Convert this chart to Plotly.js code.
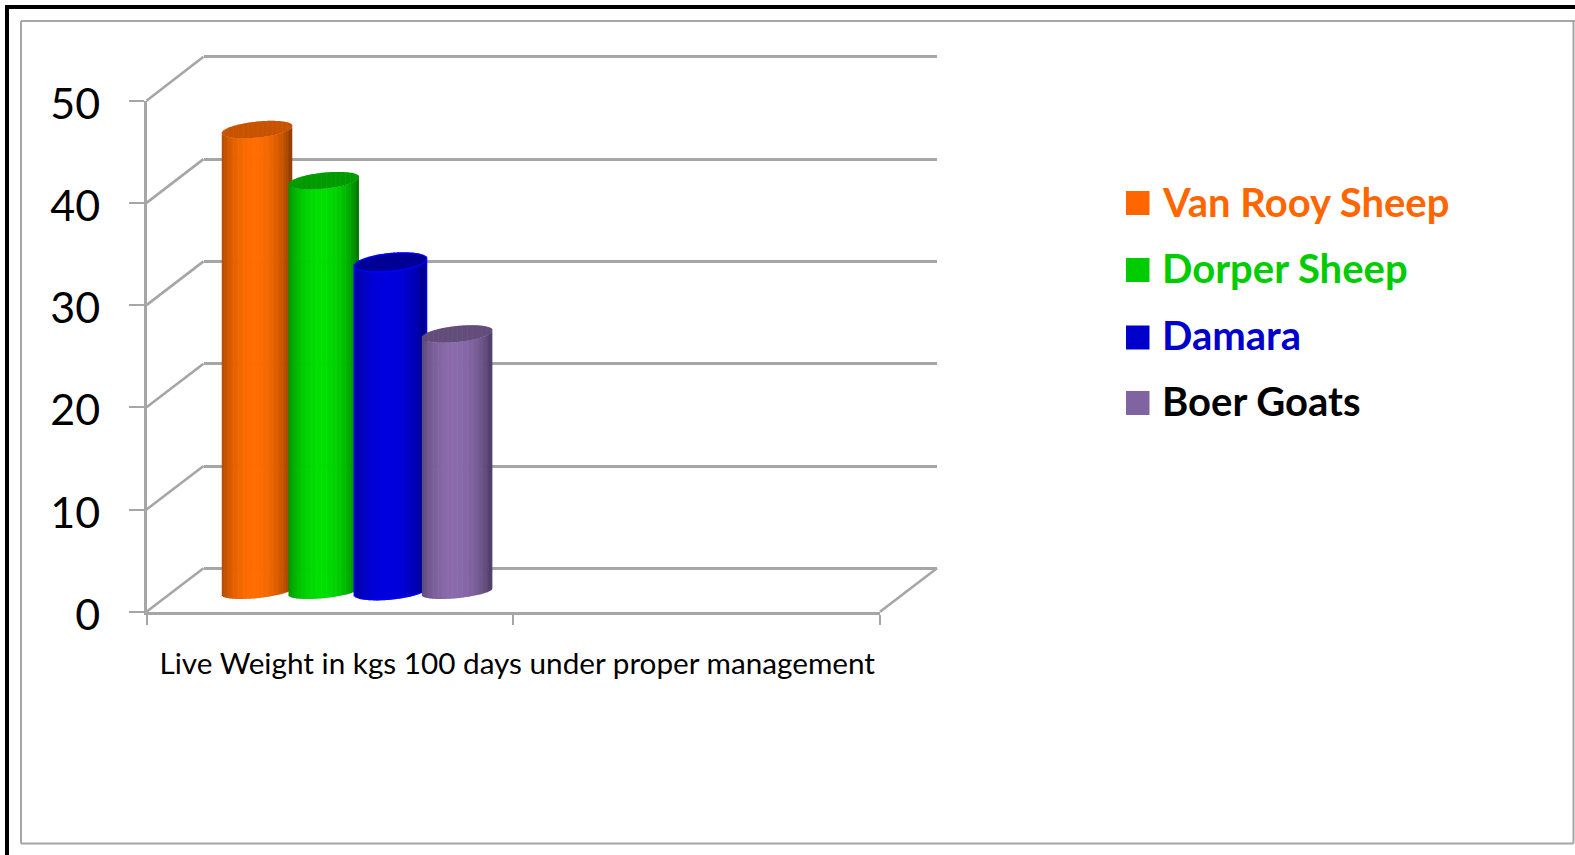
<!DOCTYPE html>
<html>
<head>
<meta charset="utf-8">
<script src="https://cdn.plot.ly/plotly-3.0.1.min.js"></script>
<style>html,body{margin:0;padding:0;background:#fff;overflow:hidden}</style>
</head>
<body>
<div id="chart" style="width:1575px;height:855px"></div>
<script>
// ---- data ----
const categories = ["Live Weight in kgs 100 days under proper management", " "];
const seriesNames = ["Van Rooy Sheep", "Dorper Sheep", "Damara", "Boer Goats"];
const seriesValues = [45.2, 40.2, 32.2, 25.2];
const yTicks = [0, 10, 20, 30, 40, 50];

// ---- styles ----
const legendTextColors = ["#ff6600", "#00cc00", "#0000cc", "#000000"];
const legendSwatchColors = ["#ff6600", "#00cc00", "#0000cc", "#8064a2"];
const edgeColors = [[150,62,0],[0,125,0],[0,0,140],[78,62,104]];
const midColors = [[255,108,0],[0,222,0],[0,0,222],[138,106,172]];
const capColors = [[200,82,0],[0,155,0],[0,0,150],[98,76,122]];
const haloPx = [0, 0, 1.6, 0];
const GRID = "#a6a6a6";
const FONT = "Lato, Carlito, Calibri, sans-serif";

// ---- page geometry (pixels) ----
const W = 1575, H = 855;
const fx = p => p / W, fy = p => 1 - p / H;
const front = {x0: 146.5, x1: 880, y0: 611.7, y1: 100.7};
const back  = {x0: 203.5, x1: 937, y0: 568.3, y1: 56.8};
const mid   = {x0: 175.2, x1: 908.7, y0: 591.5, y1: 80.5};
const pxPerUnitY = (mid.y0 - mid.y1) / 50;
const pxPerBackY = (back.y0 - back.y1) / 50;
const pxPerCat = (mid.x1 - mid.x0) / categories.length;
const barW = 70.5 / pxPerCat, barStep = 66.7 / pxPerCat, centre = -1.5 / pxPerCat;
const tilt = 3.5 / pxPerUnitY, ell = 8 / pxPerUnitY, ellBase = 6.6 / pxPerUnitY;
const N = 56;
const backPad = 1, barPadLow = 5;
const titleShiftPx = 4;

function shade(i, t) {
  const s = Math.sqrt(Math.max(0, 1 - (t + 0.08) * (t + 0.08)));
  const k = Math.pow(s, 1.5);
  const c = edgeColors[i].map((e, j) => Math.round(e + (midColors[i][j] - e) * k));
  return `rgba(${c[0]},${c[1]},${c[2]},0.995)`;
}
function strips(i, halo, mk) {
  const extra = halo / pxPerCat;
  const w = barW + 2 * extra;
  const left = centre + (i - 1.5) * barStep - w / 2;
  const step = w / N;
  const o = {x: [], y: [], base: [], width: [], offset: [], color: []};
  for (let k = 0; k < N; k++) {
    const t = -1 + (k + 0.5) * 2 / N;
    const p = mk(t, k);
    o.x.push(categories[0]);
    o.y.push(p.h);
    o.base.push(p.b);
    o.width.push(k === N - 1 ? step : step * 1.5);
    o.offset.push(left + k * step);
    o.color.push(p.c);
  }
  return o;
}
function barTrace(o, name) {
  return {type: "bar", xaxis: "x3", yaxis: "y3", name: name, x: o.x, y: o.y, base: o.base,
    width: o.width, offset: o.offset, marker: {color: o.color, line: {width: 0}},
    hoverinfo: "skip", showlegend: false, cliponaxis: false};
}
const hidden = {type: "scatter", mode: "markers", marker: {size: 1, opacity: 0}, hoverinfo: "skip", showlegend: false};
const traces = [
  Object.assign({}, hidden, {xaxis: "x", yaxis: "y", x: [0], y: [0]}),
  Object.assign({}, hidden, {xaxis: "x2", yaxis: "y2", x: [categories[0]], y: [0]}),
  Object.assign({}, hidden, {xaxis: "x4", yaxis: "y2", x: [0], y: [0]})
];
seriesValues.forEach((v, i) => {
  const low = (t, e, b) => tilt * t - (b + e) * Math.sqrt(1 - t * t);
  const h = haloPx[i] / pxPerUnitY;
  if (h > 0) {
    traces.push(barTrace(strips(i, haloPx[i], t => ({h: v + low(t, h, ell) - low(t, h, ellBase), b: low(t, h, ellBase), c: "rgba(0,0,255,0.995)"})), seriesNames[i] + " outline"));
  }
  traces.push(barTrace(strips(i, 0, t => ({h: v + low(t, 0, ell) - low(t, 0, ellBase), b: low(t, 0, ellBase), c: shade(i, t)})), seriesNames[i]));
  if (h > 0) {
    traces.push(barTrace(strips(i, haloPx[i], t => ({h: 2 * (ell + h) * Math.sqrt(1 - t * t), b: v + low(t, h, ell), c: "rgba(0,0,255,0.995)"})), seriesNames[i] + " rim"));
  }
  const cc = capColors[i];
  traces.push(barTrace(strips(i, 0, t => ({h: 2 * ell * Math.sqrt(1 - t * t), b: v + low(t, 0, ell), c: `rgba(${cc[0]},${cc[1]},${cc[2]},0.995)`})), seriesNames[i] + " top"));
});

// ---- frame, side walls, legend ----
const LW = 2.6;
const pline = (x0, y0, x1, y1, color, width) => ({type: "line", xref: "paper", yref: "paper", layer: "below",
  x0: fx(x0), y0: fy(y0), x1: fx(x1), y1: fy(y1), line: {color: color, width: width}});
const shapes = [
  pline(7, 7, W, 7, "#000000", 4),
  pline(7, 5, 7, H, "#000000", 4),
  pline(21, 21, W, 21, GRID, 2),
  pline(21, 21, 21, 843.5, GRID, 2),
  pline(21, 843.5, 1573.5, 843.5, GRID, 2),
  pline(1573.5, 21, 1573.5, 843.5, GRID, 2),
  pline(front.x1, front.y0, back.x1, back.y0, GRID, LW)
];
yTicks.forEach(v => {
  const yf = front.y0 + (front.y1 - front.y0) * v / 50;
  const yb = back.y0 + (back.y1 - back.y0) * v / 50;
  shapes.push(pline(front.x0, yf, back.x0, yb, GRID, LW));
});
const legendY = [203, 270, 337.5, 403];
const legendTextY = [201.5, 268, 334.5, 401];
const annotations = seriesNames.map((n, i) => ({
  xref: "paper", yref: "paper", xanchor: "left", yanchor: "middle", showarrow: false,
  x: fx(1160), y: fy(legendTextY[i]), text: "<b>" + n + "</b>", align: "left",
  font: {family: FONT, size: 40, color: legendTextColors[i]}
}));
seriesNames.forEach((n, i) => shapes.push({
  type: "rect", xref: "paper", yref: "paper", layer: "above", line: {width: 0},
  x0: fx(1126), x1: fx(1149.5), y0: fy(legendY[i] - 12), y1: fy(legendY[i] + 12), fillcolor: legendSwatchColors[i]
}));

const layout = {
  width: W, height: H, margin: {l: 0, r: 0, t: 0, b: 0}, autosize: false,
  paper_bgcolor: "#ffffff", plot_bgcolor: "rgba(0,0,0,0)", showlegend: false,
  barmode: "overlay", font: {family: FONT, color: "#000000"},
  xaxis: {domain: [fx(back.x0), fx(back.x1)], range: [0, 1], visible: false, anchor: "y", fixedrange: true},
  yaxis: {domain: [fy(back.y0 ), fy(back.y1 - backPad * pxPerBackY)], range: [0, 50 + backPad], anchor: "x", tickmode: "array", tickvals: yTicks,
    showticklabels: false, ticks: "", showgrid: true, gridcolor: GRID, gridwidth: LW,
    zeroline: true, zerolinecolor: GRID, zerolinewidth: LW, showline: false, fixedrange: true},
  xaxis2: {domain: [fx(front.x0), fx(front.x1)], type: "category", categoryorder: "array", categoryarray: categories,
    range: [-0.5, 1.5], anchor: "y2", tickson: "boundaries", ticks: "outside", ticklen: 10, tickwidth: 2, tickcolor: GRID,
    showticklabels: false, showgrid: false, showline: true, linecolor: GRID, linewidth: LW, fixedrange: true},
  xaxis4: {domain: [fx(front.x0 + titleShiftPx), fx(front.x1 + titleShiftPx)], range: [0, 1], anchor: "y2",
    showticklabels: false, ticks: "", showgrid: false, zeroline: false, showline: false, fixedrange: true,
    title: {text: categories[0], font: {family: FONT, size: 29.7, color: "#000000"}, standoff: 41}},
  yaxis2: {domain: [fy(front.y0), fy(front.y1)], range: [0, 50], anchor: "x2", tickmode: "array", tickvals: yTicks,
    ticks: "outside", ticklen: 15, tickwidth: 2, tickcolor: GRID, showline: true, linecolor: GRID, linewidth: LW,
    showgrid: false, zeroline: false, ticklabelstandoff: 20, ticklabelshift: 3, tickfont: {family: FONT, size: 43, color: "#000000"}, fixedrange: true},
  xaxis3: {domain: [fx(mid.x0), fx(mid.x1)], type: "category", categoryorder: "array", categoryarray: categories,
    range: [-0.5, 1.5], anchor: "y3", visible: false, fixedrange: true},
  yaxis3: {domain: [fy(mid.y0 + barPadLow * pxPerUnitY), fy(mid.y1)], range: [-barPadLow, 50], anchor: "x3", visible: false, fixedrange: true},
  shapes: shapes, annotations: annotations
};
Plotly.newPlot("chart", traces, layout, {displayModeBar: false, staticPlot: false, responsive: false});
</script>
</body>
</html>
